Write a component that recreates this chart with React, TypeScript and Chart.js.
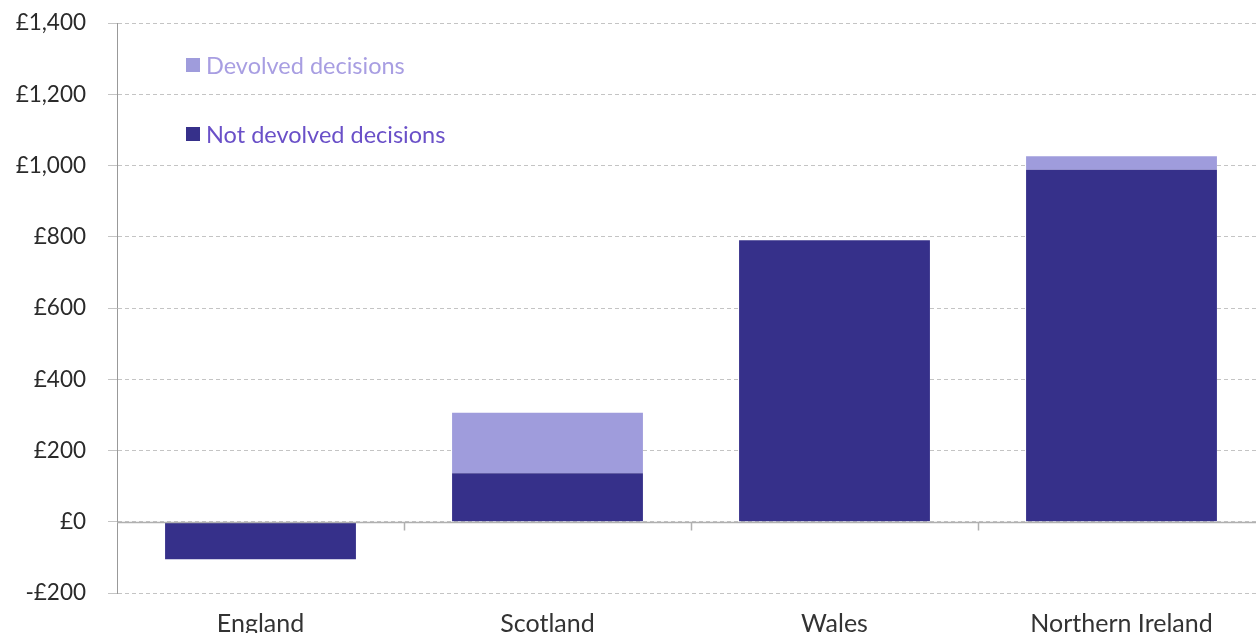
import React, { useEffect, useRef } from "react";
import { Chart, registerables } from "chart.js";

Chart.register(...registerables);

const categories = ["England", "Scotland", "Wales", "Northern Ireland"];
const notDevolved = [-105, 136, 790, 988];
const devolved = [0, 170, 0, 38];
const yTicks = [-200, 0, 200, 400, 600, 800, 1000, 1200, 1400];

const DARK = "#36308a";
const LIGHT = "#9f9cdc";
const FONT = "Lato, 'Noto Sans', sans-serif";

const zeroLinePlugin = {
  id: "zeroLine",
  afterDatasetsDraw(chart: any) {
    const { ctx, chartArea, scales } = chart;
    const y = Math.round(scales.y.getPixelForValue(0)) + 0.5;
    ctx.save();
    ctx.strokeStyle = "#b0b0b0";
    ctx.lineWidth = 1.5;
    ctx.setLineDash([]);
    ctx.beginPath();
    ctx.moveTo(chartArea.left, y);
    ctx.lineTo(chartArea.right, y);
    const n = categories.length;
    const w = (chartArea.right - chartArea.left) / n;
    for (let i = 1; i < n; i++) {
      const x = Math.round(chartArea.left + w * i) + 0.5;
      ctx.moveTo(x, y);
      ctx.lineTo(x, y + 8);
    }
    ctx.stroke();
    ctx.restore();
  },
};

export default function App() {
  const ref = useRef<HTMLCanvasElement | null>(null);
  useEffect(() => {
    document.body.style.margin = "0";
    document.body.style.overflow = "hidden";
    const chart = new Chart(ref.current as HTMLCanvasElement, {
      type: "bar",
      data: {
        labels: categories,
        datasets: [
          {
            label: "Not devolved decisions",
            data: notDevolved,
            backgroundColor: DARK,
            barPercentage: 0.665,
            categoryPercentage: 1,
          },
          {
            label: "Devolved decisions",
            data: devolved,
            backgroundColor: LIGHT,
            barPercentage: 0.665,
            categoryPercentage: 1,
          },
        ],
      },
      options: {
        animation: false,
        responsive: false,
        layout: { padding: { top: 23, right: 0, left: 0, bottom: 0 } },
        plugins: { legend: { display: false }, tooltip: { enabled: false } },
        scales: {
          x: {
            stacked: true,
            grid: { display: false },
            border: { display: false },
            ticks: { color: "#333", font: { family: FONT, size: 25 }, padding: 8 },
            afterFit(scale: any) {
              scale.height = 57;
              scale.paddingTop = 0;
              scale.paddingBottom = 0;
              scale.paddingLeft = 0;
              scale.paddingRight = 0;
            },
          },
          y: {
            stacked: true,
            min: -200,
            max: 1400,
            afterBuildTicks(scale: any) {
              scale.ticks = yTicks.map((v) => ({ value: v }));
            },
            afterFit(scale: any) {
              scale.width = 117;
              scale.paddingTop = 0;
              scale.paddingBottom = 0;
            },
            grid: {
              color: "#c4c4c4",
              tickLength: 9,
              lineWidth: 1,
            },
            border: { display: true, color: "#999", width: 1, dash: [4, 3] },
            ticks: {
              color: "#2a2a2a",
              font: { family: FONT, size: 22.5 },
              padding: 22,
              callback: (v: any) =>
                (v < 0 ? "-£" : "£") + Math.abs(Number(v)).toLocaleString("en-GB"),
            },
          },
        },
      },
      plugins: [zeroLinePlugin],
    });
    return () => chart.destroy();
  }, []);

  const legendStyle: React.CSSProperties = {
    position: "absolute",
    left: 186,
    fontFamily: FONT,
    fontSize: 23.5,
    display: "flex",
    alignItems: "center",
    lineHeight: "28px",
    whiteSpace: "nowrap",
  };

  return (
    <div style={{ position: "relative", width: 1256, height: 633, overflow: "hidden" }}>
      <canvas ref={ref} width={1265} height={650} style={{ display: "block" }} />
      <div style={{ ...legendStyle, top: 51, color: "#a89ee2" }}>
        <span style={{ display: "inline-block", width: 14, height: 14, background: LIGHT, marginRight: 6 }} />
        Devolved decisions
      </div>
      <div style={{ ...legendStyle, top: 120, color: "#6a50c8" }}>
        <span style={{ display: "inline-block", width: 14, height: 14, background: DARK, marginRight: 6 }} />
        Not devolved decisions
      </div>
    </div>
  );
}
